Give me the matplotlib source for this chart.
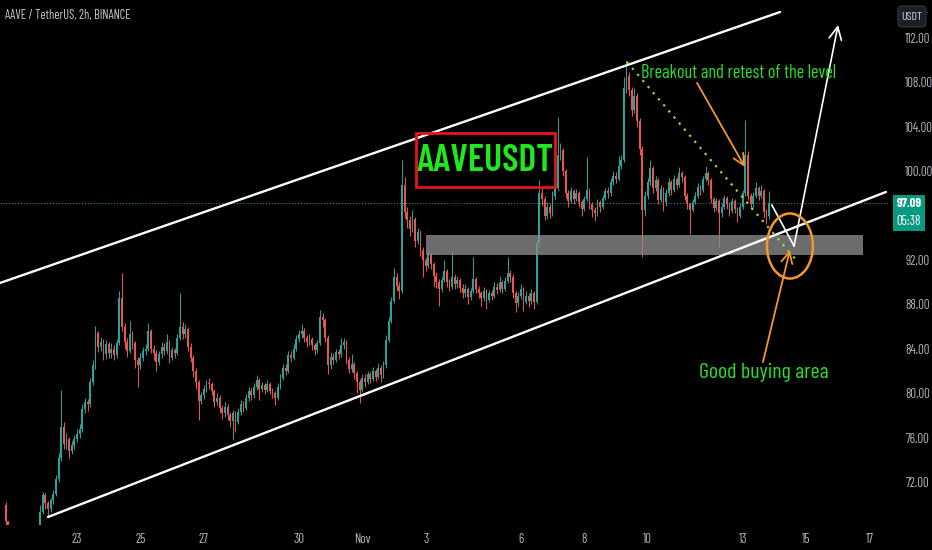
import matplotlib
matplotlib.use('Agg')
import matplotlib.pyplot as plt
from matplotlib import font_manager
from matplotlib.patches import Rectangle, Ellipse, FancyBboxPatch
import matplotlib.transforms as mtransforms
import pandas as pd

names = {f.name for f in font_manager.fontManager.ttflist}
NARROW = 'DejaVu Sans'
for cand in ('Barlow Condensed', 'Fira Sans Condensed', 'IBM Plex Sans Condensed', 'Liberation Sans Narrow'):
    if cand in names:
        NARROW = cand
        break
plt.rcParams['font.family'] = [NARROW, 'DejaVu Sans']

# ---------------- data ----------------
title = 'AAVE / TetherUS, 2h, BINANCE'
start_time = '2023-10-20 18:00'
first_open = 69.9
closes = [
 68.5, 67.6, 67.0, 66.7, 67.1, 66.5, 66.9, 67.3, 66.8, 67.0,
 67.4, 67.2, 67.6, 69.3, 70.8, 70.1, 69.6, 70.4, 70.9, 72.3,
 74.2, 77.0, 75.4, 75.9, 74.8, 75.3, 75.9, 76.3, 76.8, 78.6,
 79.2, 79.0, 81.0, 82.5, 85.4, 84.2, 84.6, 83.5, 84.4, 83.6,
 84.0, 83.4, 84.5, 88.6, 86.0, 84.6, 83.8, 85.3, 84.5, 83.0,
 82.5, 83.2, 83.8, 84.0, 85.6, 84.0, 83.6, 82.8, 83.5, 84.2,
 83.8, 84.6, 83.2, 83.9, 83.6, 85.0, 86.0, 85.3, 85.8, 84.2,
 83.2, 82.0, 81.0, 79.3, 79.8, 80.4, 80.9, 80.8, 80.2, 79.2,
 79.6, 78.7, 78.2, 78.8, 78.0, 77.5, 78.2, 77.4, 78.3, 79.0,
 78.7, 79.6, 80.2, 79.8, 80.6, 81.2, 80.4, 80.7, 80.3, 80.8,
 80.2, 80.0, 79.6, 80.6, 81.4, 82.3, 82.0, 83.4, 83.2, 84.0,
 84.9, 85.3, 85.6, 85.0, 84.6, 84.9, 84.3, 83.9, 84.5, 86.9,
 86.6, 85.0, 82.5, 83.3, 83.0, 83.7, 83.5, 84.3, 84.6, 83.0,
 82.2, 82.6, 81.8, 81.0, 80.3, 81.4, 81.0, 81.7, 81.3, 82.0,
 81.5, 82.3, 81.6, 82.5, 84.8, 86.5, 88.3, 90.5, 89.7, 89.2,
 98.8, 96.3, 95.6, 94.8, 95.7, 93.7, 94.5, 92.9, 92.0, 91.5,
 92.5, 91.6, 90.6, 90.0, 89.4, 90.2, 91.0, 90.0, 89.6, 90.5,
 89.8, 90.2, 89.5, 89.0, 89.4, 88.7, 89.2, 90.3, 89.4, 89.0,
 88.6, 89.2, 88.4, 89.0, 88.8, 89.6, 89.3, 90.0, 89.4, 90.1,
 90.8, 90.5, 89.0, 88.1, 88.8, 89.4, 88.2, 88.8, 88.3, 89.0,
 88.2, 93.5, 98.0, 97.5, 96.0, 96.8, 96.2, 97.8, 98.5, 101.5,
 101.9, 100.0, 98.0, 97.3, 98.2, 97.5, 98.0, 97.2, 96.6, 97.5,
 98.3, 97.0, 96.5, 96.2, 97.2, 96.8, 97.6, 98.2, 98.0, 99.0,
 99.6, 99.3, 100.5, 101.0, 107.5, 108.6, 107.3, 105.5, 106.8, 104.5,
 102.0, 96.5, 97.8, 99.0, 100.3, 98.5, 99.2, 97.4, 98.4, 97.2,
 98.0, 99.0, 98.3, 99.3, 98.8, 99.8, 99.5, 97.8, 97.0, 96.5,
 97.2, 97.8, 98.6, 98.3, 99.3, 99.8, 99.2, 97.5, 96.7, 97.3,
 96.2, 96.8, 97.6, 97.0, 96.4, 97.3, 96.6, 96.0, 96.8, 98.0,
 101.5, 97.8, 97.0, 97.8, 98.5, 97.8, 98.2, 96.3, 96.0, 97.09]
highs = [
 70.2, 68.2, 67.9, 67.3, 67.4, 67.3, 67.2, 67.6, 67.5, 67.3,
 67.7, 67.8, 67.9, 69.9, 71.1, 71.0, 70.3, 70.6, 71.3, 72.6,
 74.6, 80.3, 77.4, 76.4, 76.1, 75.7, 76.2, 76.8, 77.2, 79.0,
 79.6, 79.5, 81.4, 83.0, 86.1, 85.6, 85.1, 84.9, 84.8, 84.6,
 84.5, 84.3, 84.9, 89.2, 90.8, 86.3, 85.0, 86.5, 85.6, 84.7,
 83.3, 83.6, 84.2, 84.4, 86.3, 85.8, 84.3, 83.9, 83.8, 84.6,
 84.5, 85.3, 84.8, 84.2, 84.1, 85.3, 89.0, 86.4, 86.2, 86.0,
 84.5, 83.4, 82.3, 81.2, 80.1, 80.7, 81.2, 81.4, 81.0, 80.4,
 80.0, 79.8, 78.9, 79.2, 79.0, 78.3, 78.5, 78.4, 78.7, 79.4,
 79.3, 79.9, 80.6, 80.5, 80.9, 81.6, 81.4, 81.0, 80.9, 81.2,
 81.0, 80.5, 80.2, 80.9, 81.7, 82.6, 82.6, 83.8, 83.8, 84.4,
 85.2, 85.7, 86.2, 85.9, 85.2, 85.3, 85.1, 84.5, 84.8, 87.5,
 87.2, 86.8, 85.2, 83.7, 83.6, 84.0, 84.0, 85.0, 85.0, 84.8,
 83.3, 83.5, 82.8, 82.0, 81.3, 81.7, 81.7, 82.0, 81.9, 82.4,
 82.2, 82.7, 82.5, 82.9, 85.2, 86.9, 88.7, 91.3, 90.8, 90.0,
 101.0, 99.5, 96.8, 96.0, 96.5, 95.9, 94.9, 94.7, 93.2, 92.3,
 93.0, 92.7, 91.8, 90.9, 90.3, 90.5, 92.0, 91.2, 90.3, 92.8,
 90.7, 90.6, 90.4, 89.8, 89.8, 89.6, 89.5, 92.3, 90.5, 89.7,
 89.2, 89.6, 89.4, 89.3, 89.3, 90.0, 89.9, 90.6, 90.2, 90.5,
 92.3, 91.1, 90.7, 89.2, 89.1, 89.8, 89.6, 89.2, 89.0, 89.4,
 89.2, 93.9, 99.2, 98.6, 97.8, 97.2, 97.1, 98.2, 99.0, 104.9,
 102.5, 102.1, 100.2, 98.3, 98.6, 98.4, 98.4, 98.2, 97.4, 97.8,
 101.3, 98.5, 97.2, 96.8, 97.5, 97.4, 97.9, 98.5, 98.6, 99.4,
 100.0, 99.9, 101.4, 101.5, 108.5, 110.0, 108.9, 107.6, 107.5, 107.0,
 104.8, 102.3, 98.2, 99.4, 101.0, 100.5, 99.6, 99.4, 98.8, 98.6,
 98.4, 99.4, 99.2, 99.7, 99.5, 100.4, 100.0, 99.7, 98.0, 97.2,
 97.5, 98.1, 98.9, 98.8, 99.6, 100.5, 100.0, 99.4, 97.7, 97.6,
 97.5, 97.1, 97.9, 97.8, 97.2, 97.6, 97.5, 96.8, 97.1, 98.3,
 104.6, 101.8, 98.0, 98.1, 99.0, 98.7, 98.8, 98.4, 96.6, 98.2]
lows = [
 67.9, 67.2, 66.6, 66.3, 66.4, 66.1, 66.2, 66.7, 66.5, 66.5,
 66.8, 66.9, 67.0, 67.4, 69.1, 69.6, 68.9, 69.3, 70.0, 70.7,
 72.0, 73.9, 75.0, 75.0, 74.2, 74.5, 75.0, 75.6, 76.0, 76.5,
 78.2, 78.4, 78.8, 80.7, 82.2, 83.7, 83.8, 83.0, 83.1, 83.2,
 83.2, 83.0, 83.2, 84.3, 85.6, 84.0, 83.3, 83.6, 84.0, 82.3,
 80.6, 82.2, 82.9, 83.4, 83.8, 83.6, 83.0, 82.0, 82.5, 83.2,
 83.4, 83.5, 82.7, 83.0, 83.2, 83.4, 84.8, 84.9, 85.0, 83.8,
 82.8, 81.5, 80.4, 77.6, 79.0, 79.5, 80.1, 80.4, 79.8, 78.8,
 78.9, 78.2, 77.7, 77.9, 77.6, 77.0, 75.8, 76.5, 77.2, 78.0,
 78.3, 78.5, 79.3, 79.4, 79.6, 80.3, 79.4, 80.1, 79.9, 80.1,
 79.9, 79.6, 78.9, 79.4, 80.4, 81.2, 81.6, 81.8, 82.8, 83.0,
 83.8, 84.6, 85.0, 84.6, 84.2, 84.3, 83.9, 83.4, 83.6, 84.3,
 86.0, 84.6, 81.7, 82.2, 82.6, 82.8, 83.1, 83.3, 84.0, 82.6,
 81.8, 81.9, 81.3, 80.0, 79.1, 80.1, 80.6, 80.8, 80.9, 81.1,
 81.1, 81.3, 81.0, 81.4, 82.3, 84.6, 86.3, 88.1, 89.2, 88.5,
 89.0, 95.8, 94.9, 94.2, 94.5, 93.2, 93.4, 92.4, 90.5, 91.0,
 91.3, 91.2, 89.6, 89.5, 87.9, 89.1, 90.0, 89.6, 89.2, 89.4,
 89.4, 89.5, 89.1, 88.6, 88.7, 88.0, 88.4, 89.0, 89.0, 88.6,
 87.9, 88.3, 87.6, 88.2, 88.4, 88.6, 88.9, 89.1, 89.0, 89.2,
 89.9, 90.0, 88.6, 87.3, 87.8, 88.5, 87.4, 88.0, 87.8, 88.0,
 87.6, 88.0, 93.2, 96.9, 95.6, 95.7, 95.8, 96.0, 97.5, 98.3,
 101.0, 99.6, 97.6, 96.8, 97.1, 97.0, 97.3, 96.8, 96.0, 96.4,
 97.3, 96.6, 95.9, 95.5, 96.0, 96.3, 96.6, 97.4, 97.6, 97.8,
 98.8, 98.9, 99.1, 100.2, 100.8, 107.0, 106.8, 105.0, 105.2, 104.0,
 101.5, 92.3, 96.0, 97.5, 98.8, 98.0, 98.2, 97.0, 97.2, 96.4,
 96.9, 97.8, 97.9, 98.1, 98.4, 98.6, 99.0, 97.4, 96.6, 94.3,
 96.3, 97.0, 97.6, 97.9, 98.1, 99.1, 98.8, 97.1, 96.3, 96.5,
 93.2, 95.9, 96.6, 96.6, 96.0, 96.2, 96.2, 95.4, 95.8, 96.6,
 97.8, 97.4, 96.6, 96.8, 97.6, 97.4, 97.6, 95.8, 95.2, 95.7]

tick_dates = ['2023-10-23', '2023-10-25', '2023-10-27', '2023-10-30', '2023-11-01', '2023-11-03',
              '2023-11-06', '2023-11-08', '2023-11-10', '2023-11-13', '2023-11-15', '2023-11-17']
tick_labels = ['23', '25', '27', '30', 'Nov', '3', '6', '8', '10', '13', '15', '17']
price_ticks = [72, 76, 80, 84, 88, 92, 100, 104, 108, 112]
last_price = 97.09
countdown = '05:38'

# drawings (x in days from Oct 23, y in price)
channel_upper = [(-2.43, 89.93), (22.18, 114.34)]
channel_lower = [(-0.915, 68.85), (25.52, 98.13)]
zone = (11.01, 24.79, 92.45, 94.25)
label_box = (10.69, 15.08, 98.58, 103.44)
dotted_trend = [(17.35, 109.84), (22.74, 91.82)]
white_path = [(21.92, 96.95), (22.62, 93.26), (24.01, 113.17)]
arrow_breakout = [(19.56, 107.95), (21.07, 100.38)]
arrow_buy = [(21.64, 82.81), (22.49, 92.90)]
circle = (22.49, 93.26, 1.45, 5.86)

# ---------------- figure ----------------
BG = '#000000'
UP = '#26a69a'
DN = '#ef5350'
TXT = '#b2b5be'

fig = plt.figure(figsize=(9.32, 5.5), dpi=100, facecolor=BG)
ax = fig.add_axes([0, 25 / 550, 890 / 932, 525 / 550])
ax.set_facecolor(BG)

origin = pd.Timestamp('2023-10-23')
times = pd.date_range(start_time, periods=len(closes), freq='2h')
x = list((times - origin) / pd.Timedelta(days=1))
opens = [first_open] + closes[:-1]
cols = [UP if c >= o else DN for o, c in zip(opens, closes)]
bottoms = [min(o, c) for o, c in zip(opens, closes)]
heights = [max(abs(c - o), 0.06) for o, c in zip(opens, closes)]
hi = [max(h, o, c) for h, o, c in zip(highs, opens, closes)]
lo = [min(l, o, c) for l, o, c in zip(lows, opens, closes)]

ax.vlines(x, lo, hi, colors=cols, linewidth=0.7, zorder=2)
ax.bar(x, heights, bottom=bottoms, width=0.68 / 12, color=cols, linewidth=0, zorder=3)

# current price line
ax.axhline(last_price, color=UP, linestyle=(0, (1, 2)), linewidth=0.7, zorder=1)

# zone rectangle
ax.add_patch(Rectangle((zone[0], zone[2]), zone[1] - zone[0], zone[3] - zone[2],
                       facecolor='#8c8c8c', alpha=0.78, edgecolor='none', zorder=4))

# channel lines
for seg in (channel_upper, channel_lower):
    ax.plot([seg[0][0], seg[1][0]], [seg[0][1], seg[1][1]], color='white', linewidth=1.7,
            solid_capstyle='round', zorder=6)

# AAVEUSDT label box
ax.add_patch(Rectangle((label_box[0], label_box[2]), label_box[1] - label_box[0],
                       label_box[3] - label_box[2], facecolor='none', edgecolor='#e8141a',
                       linewidth=2.0, zorder=6))
ax.text((label_box[0] + label_box[1]) / 2, (label_box[2] + label_box[3]) / 2 - 0.1, 'AAVEUSDT',
        color='#1ee81e', fontsize=27, fontweight='semibold', ha='center', va='center', zorder=7)

# dotted trend line
ax.plot([p[0] for p in dotted_trend], [p[1] for p in dotted_trend], color='#a6d82e',
        linestyle=(0, (1, 2.6)), linewidth=1.6, zorder=6)

# white projection path
ax.plot([white_path[0][0], white_path[1][0]], [white_path[0][1], white_path[1][1]],
        color='white', linewidth=1.2, zorder=7)
ax.annotate('', xy=white_path[2], xytext=white_path[1],
            arrowprops=dict(arrowstyle='->,head_length=0.9,head_width=0.45', color='white',
                            lw=1.2, shrinkA=0, shrinkB=0), zorder=7)

# orange arrows & circle
ORANGE = '#f7962f'
for a in (arrow_breakout, arrow_buy):
    ax.annotate('', xy=a[1], xytext=a[0],
                arrowprops=dict(arrowstyle='->,head_length=0.8,head_width=0.4', color=ORANGE,
                                lw=1.3, shrinkA=0, shrinkB=0), zorder=7)
ax.add_patch(Ellipse((circle[0], circle[1]), circle[2], circle[3], facecolor='none',
                     edgecolor=ORANGE, linewidth=1.8, zorder=7))

# annotation texts
GREEN_TXT = '#27e027'
ax.text(17.79, 108.85, 'Breakout and retest of the level', color=GREEN_TXT, fontsize=13.2,
        ha='left', va='center', zorder=8)
ax.text(21.67, 81.91, 'Good buying area', color=GREEN_TXT, fontsize=15.8,
        ha='center', va='center', zorder=8)

# axes formatting
ax.set_xlim(-2.429, 25.647)
ax.set_ylim(68.13, 115.42)
for s in ax.spines.values():
    s.set_visible(False)
tick_x = list((pd.to_datetime(tick_dates) - origin) / pd.Timedelta(days=1))
ax.set_xticks(tick_x)
ax.set_xticklabels(tick_labels)
ax.yaxis.tick_right()
ax.set_yticks(price_ticks)
ax.set_yticklabels([f'{p:.2f}' for p in price_ticks])
ax.tick_params(axis='both', length=0, colors=TXT, labelsize=9.3)
ax.tick_params(axis='y', pad=11)
ax.tick_params(axis='x', pad=6)

# title
fig.text(5 / 932, 1 - 16 / 550, title, color='#c8cbd3', fontsize=9, ha='left', va='center')

# last price label on the price scale
tr = mtransforms.blended_transform_factory(fig.transFigure, ax.transData)
ax.add_patch(Rectangle((893 / 932, last_price - 2.45), 32 / 932, 3.2, transform=tr,
                       facecolor='#089981', edgecolor='none', clip_on=False, zorder=9))
ax.text(909 / 932, last_price, f'{last_price:.2f}', transform=tr, color='white', fontsize=9.3,
        fontweight='bold', ha='center', va='center', clip_on=False, zorder=10)
ax.text(909 / 932, last_price - 1.6, countdown, transform=tr, color='white', fontsize=9.3,
        ha='center', va='center', clip_on=False, zorder=10)

# currency box
fig.patches.append(FancyBboxPatch((898 / 932, 1 - 27 / 550), 28 / 932, 21 / 550,
                                  boxstyle='round,pad=0,rounding_size=0.006',
                                  transform=fig.transFigure, facecolor='#1c1f26',
                                  edgecolor='#363a45', linewidth=0.8))
fig.text(912 / 932, 1 - 16.5 / 550, 'USDT', color='#d1d4dc', fontsize=8.5, ha='center', va='center')

fig.savefig('out.png', dpi=100, facecolor=BG)
